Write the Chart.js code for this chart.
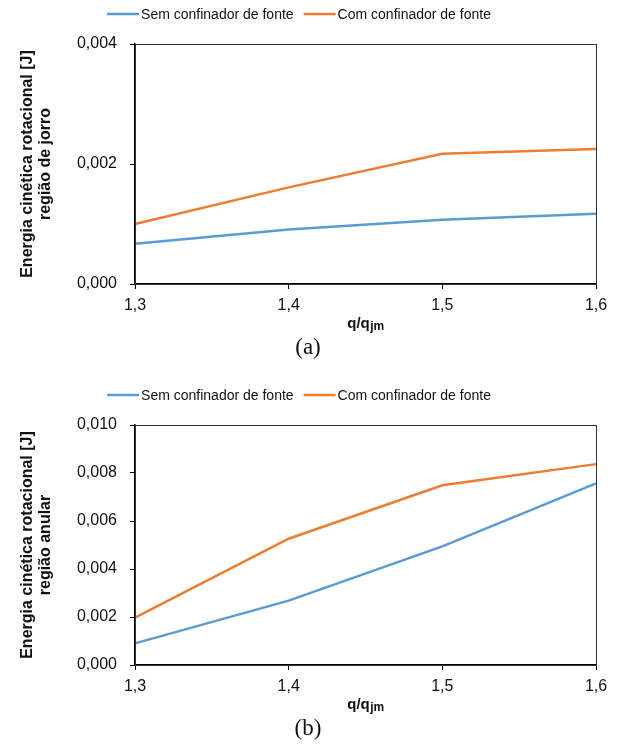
<!DOCTYPE html>
<html lang="pt">
<head>
<meta charset="utf-8">
<title>Energia cinética rotacional</title>
<script src="https://cdn.jsdelivr.net/npm/chart.js@4.4.1/dist/chart.umd.min.js"></script>
<style>
    html, body { margin: 0; padding: 0; background: #fff; }
    #page { position: relative; width: 620px; height: 747px; overflow: hidden; }
    .panel { position: absolute; left: 0; width: 620px; height: 366px; }
    #panelA { top: 0; }
    #panelB { top: 381px; }
</style>
</head>
<body>
<div id="page">
    <div class="panel" id="panelA"><canvas id="chartA" width="620" height="366"></canvas></div>
    <div class="panel" id="panelB"><canvas id="chartB" width="620" height="366"></canvas></div>
</div>
<script>
/* ---- data ---- */
const razao = ['1,3', '1,4', '1,5', '1,6'];           // q/qjm
const seriesNames = ['Sem confinador de fonte', 'Com confinador de fonte'];

// (a) região de jorro [J]
const jorroSem = [0.00067, 0.00091, 0.00107, 0.00117];
const jorroCom = [0.00100, 0.00161, 0.00217, 0.00225];

// (b) região anular [J]
const anularSem = [0.00090, 0.00268, 0.00494, 0.00757];
const anularCom = [0.00197, 0.00526, 0.00749, 0.00837];

const BLUE = '#5b9bd5';
const ORANGE = '#ed7d31';
const FONT = "'Liberation Sans', Arial, sans-serif";

Chart.defaults.font.family = FONT;
Chart.defaults.color = '#111';

/* legend row above the plot, frame, x title with subscript, panel tag */
const decorations = {
    id: 'decorations',
    afterDraw(chart, _args, opts) {
        const { ctx, chartArea: a } = chart;
        ctx.save();

        // frame
        ctx.strokeStyle = '#333';
        ctx.lineWidth = 1;
        ctx.strokeRect(a.left + 0.5, a.top + 0.5, a.right - a.left, a.bottom - a.top);

        // legend: short line + label, items side by side
        ctx.font = `14px ${FONT}`;
        ctx.textBaseline = 'middle';
        ctx.textAlign = 'left';
        const sample = 32, gap = 2, spacing = 10, legendY = 14;
        const items = chart.data.datasets.map((d) => ({
            text: d.label,
            color: d.borderColor,
            w: sample + gap + ctx.measureText(d.label).width,
        }));
        const total = items.reduce((s, it) => s + it.w, 0) + spacing * (items.length - 1);
        let x = opts.legendCenter - total / 2;
        items.forEach((it) => {
            ctx.strokeStyle = it.color;
            ctx.lineWidth = 2.5;
            ctx.beginPath();
            ctx.moveTo(x, legendY);
            ctx.lineTo(x + sample, legendY);
            ctx.stroke();
            ctx.fillStyle = '#111';
            ctx.fillText(it.text, x + sample + gap, legendY + 1);
            x += it.w + spacing;
        });

        // q/qjm
        ctx.fillStyle = '#111';
        ctx.textBaseline = 'alphabetic';
        const main = 'q/q';
        const sub = 'jm';
        ctx.font = `bold 15px ${FONT}`;
        const wMain = ctx.measureText(main).width;
        ctx.font = `bold 12px ${FONT}`;
        const wSub = ctx.measureText(sub).width;
        const x0 = (a.left + a.right) / 2 - (wMain + wSub) / 2;
        const yBase = a.bottom + 44;
        ctx.font = `bold 15px ${FONT}`;
        ctx.fillText(main, x0, yBase);
        ctx.font = `bold 12px ${FONT}`;
        ctx.fillText(sub, x0 + wMain + 0.5, yBase + 2);

        // (a) / (b)
        ctx.font = "23px 'Liberation Serif', 'Times New Roman', serif";
        ctx.textAlign = 'center';
        ctx.textBaseline = 'middle';
        ctx.fillText(opts.tag, 308, a.bottom + 64);
        ctx.restore();
    },
};

function buildChart(id, sem, com, yMax, yTitle, tag) {
    const ctx = document.getElementById(id).getContext('2d');
    const line = (label, data, color) => ({
        label,
        data,
        borderColor: color,
        backgroundColor: color,
        borderWidth: 2.5,
        pointRadius: 0,
        pointHoverRadius: 0,
        tension: 0,
        fill: false,
    });

    return new Chart(ctx, {
        type: 'line',
        data: {
            labels: razao,
            datasets: [line(seriesNames[0], sem, BLUE), line(seriesNames[1], com, ORANGE)],
        },
        plugins: [decorations],
        options: {
            responsive: false,
            animation: false,
            devicePixelRatio: 1,
            layout: { padding: { left: 18, right: 24, top: 44, bottom: 42 } },
            plugins: {
                tooltip: { enabled: false },
                legend: { display: false },
                decorations: { tag, legendCenter: 299 },
            },
            scales: {
                x: {
                    type: 'category',
                    offset: false,
                    grid: { drawOnChartArea: false, tickLength: 5, color: '#000' },
                    border: { display: true, color: '#000', width: 1.5 },
                    ticks: { padding: 7, font: { size: 16 }, maxRotation: 0 },
                    afterFit: (s) => { s.height = 40; },
                },
                y: {
                    min: 0,
                    max: yMax,
                    grid: { drawOnChartArea: false, tickLength: 5, color: '#000' },
                    border: { display: true, color: '#000', width: 1.5 },
                    ticks: {
                        stepSize: 0.002,
                        padding: 13,
                        font: { size: 16 },
                        callback: (v) => v.toFixed(3).replace('.', ','),
                    },
                    title: {
                        display: true,
                        text: yTitle,
                        font: { size: 16, weight: 'bold', lineHeight: 1.15 },
                        color: '#111',
                        padding: 0,
                    },
                    afterFit: (s) => { s.width = 135 - 18; },
                },
            },
        },
    });
}

buildChart('chartA', jorroSem, jorroCom, 0.004,
    ['Energia cinética rotacional [J]', 'região de jorro'], '(a)');
buildChart('chartB', anularSem, anularCom, 0.010,
    ['Energia cinética rotacional [J]', 'região anular'], '(b)');
</script>
</body>
</html>
